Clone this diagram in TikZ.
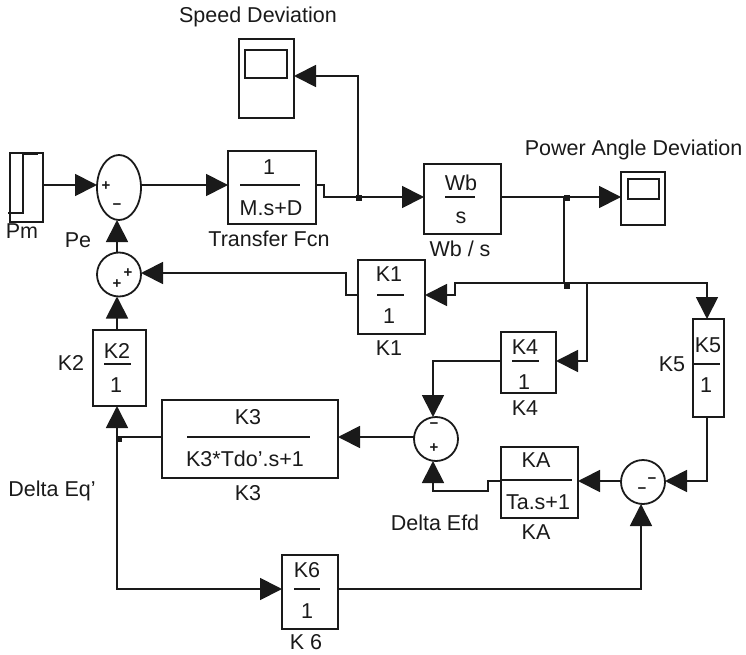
\documentclass[tikz,border=0pt]{standalone}
\usepackage{fontspec}
\setmainfont{Liberation Sans}
\usetikzlibrary{arrows.meta,shapes.geometric}
\definecolor{ink}{HTML}{1A1A1A}
\tikzset{
  blockbox/.style={draw=ink,line width=1.8pt,rectangle,inner sep=0pt,outer sep=0pt},
  sumnode/.style={draw=ink,line width=1.8pt,circle,minimum size=44pt,inner sep=0pt,outer sep=0pt},
  wire/.style={draw=ink,line width=1.8pt,line join=miter},
  flow/.style={wire,-{Triangle[length=22pt,width=22pt,color=ink]}},
  fracbar/.style={draw=ink,line width=1.8pt},
  lbl/.style={font=\fontsize{21.5}{24}\selectfont,text=ink,inner sep=0pt},
  sgn/.style={font=\fontsize{15}{16}\bfseries\selectfont,text=ink,inner sep=0pt},
  dot/.style={fill=ink,draw=none,rectangle,minimum size=6pt,inner sep=0pt}
}
\begin{document}
\begin{tikzpicture}[x=1pt,y=-1pt]
\useasboundingbox (0,0) rectangle (746,655);
% blocks
\node[blockbox,minimum width=33pt,minimum height=69pt] (pm) at (26.5,187.5) {};
\node[draw=ink,line width=1.8pt,ellipse,minimum width=44pt,minimum height=65pt,inner sep=0pt,outer sep=0pt] (pe) at (119,187.5) {};
\node[blockbox,minimum width=88pt,minimum height=73pt] (tf) at (272,187.5) {};
\node[blockbox,minimum width=55pt,minimum height=79pt] (sc1) at (266.5,78.5) {};
\node[blockbox,minimum width=42pt,minimum height=28pt] (sc1s) at (266,64) {};
\node[blockbox,minimum width=77pt,minimum height=70pt] (wb) at (462.5,199) {};
\node[blockbox,minimum width=44pt,minimum height=53pt] (sc2) at (643,198.5) {};
\node[blockbox,minimum width=31pt,minimum height=20pt] (sc2s) at (643.5,189) {};
\node[blockbox,minimum width=67pt,minimum height=74pt] (k1) at (391.5,297) {};
\node[blockbox,minimum width=55pt,minimum height=61pt] (k4) at (528.5,362.5) {};
\node[blockbox,minimum width=31pt,minimum height=98pt] (k5) at (708.5,368) {};
\node[blockbox,minimum width=53pt,minimum height=76pt] (k2) at (119.5,368) {};
\node[blockbox,minimum width=176pt,minimum height=78pt] (k3) at (250,439) {};
\node[blockbox,minimum width=56pt,minimum height=74pt] (k6) at (310,592) {};
\node[blockbox,minimum width=77pt,minimum height=71pt] (ka) at (539.5,482.5) {};
\node[sumnode] (s2) at (119,274.5) {};
\node[sumnode] (s3) at (436,439) {};
\node[sumnode] (s4) at (643,482) {};
% step icon
\coordinate (st1) at (8,213); \coordinate (st2) at (23,213);
\coordinate (st3) at (23,154); \coordinate (st4) at (38,154);
\draw[wire] (st1) -- (st2) -- (st3) -- (st4);
% fraction bars
\draw[fracbar] (240,185) -- (300,185);
\draw[fracbar] (445,197) -- (475,197);
\draw[fracbar] (377,295) -- (404,295);
\draw[fracbar] (512,361) -- (539,361);
\draw[fracbar] (694,364) -- (720,364);
\draw[fracbar] (104,364) -- (131,364);
\draw[fracbar] (187,437) -- (310,437);
\draw[fracbar] (294,589) -- (320,589);
\draw[fracbar] (501,480) -- (572,480);
% block texts
\node[lbl] (t1) at (269,167) {1};
\node[lbl] (t2) at (271,208) {M.s+D};
\node[lbl] (t3) at (461,183) {Wb};
\node[lbl] (t4) at (461,218) {s};
\node[lbl] (t5) at (389,274) {K1};
\node[lbl] (t6) at (389,316) {1};
\node[lbl] (t7) at (525,347) {K4};
\node[lbl] (t8) at (524,382) {1};
\node[lbl] (t9) at (708,345) {K5};
\node[lbl] (t10) at (706,385) {1};
\node[lbl] (t11) at (117,351) {K2};
\node[lbl] (t12) at (116,385) {1};
\node[lbl] (t13) at (248,417) {K3};
\node[lbl] (t14) at (245,459) {K3*Tdo'.s+1};
\node[lbl] (t15) at (307,570) {K6};
\node[lbl] (t16) at (307,611) {1};
\node[lbl] (t17) at (536,460) {KA};
\node[lbl] (t18) at (538,502) {Ta.s+1};
% labels
\node[lbl] (l1) at (258,17) {Speed Deviation};
\node[lbl] (l2) at (633.5,150) {Power Angle Deviation};
\node[lbl] (l3) at (22,231) {Pm};
\node[lbl] (l4) at (78,240) {Pe};
\node[lbl] (l5) at (269,239) {Transfer Fcn};
\node[lbl] (l6) at (460,249) {Wb / s};
\node[lbl] (l7) at (389,348) {K1};
\node[lbl] (l8) at (525,408) {K4};
\node[lbl] (l9) at (672,364) {K5};
\node[lbl] (l10) at (71,363) {K2};
\node[lbl] (l11) at (248,493) {K3};
\node[lbl] (l12) at (52,491) {Delta Eq'};
\node[lbl] (l13) at (306,642) {K 6};
\node[lbl] (l14) at (435,523) {Delta Efd};
\node[lbl] (l15) at (536,532) {KA};
% signs
\node[sgn] (g1) at (106,186) {+};
\node[sgn] (g2) at (117,207) {−};
\node[sgn] (g3) at (128,273) {+};
\node[sgn] (g4) at (117,284) {+};
\node[sgn] (g5) at (434,426) {−};
\node[sgn] (g6) at (434,448) {+};
\node[sgn] (g7) at (652,481) {−};
\node[sgn] (g8) at (642,491) {−};
% routing points
\coordinate (r1) at (0,185);
\coordinate (a1) at (324,185);
\coordinate (a2) at (324,197);
\coordinate (j1) at (358,197);
\coordinate (a3) at (358,76);
\coordinate (j2) at (564,197);
\coordinate (j3) at (564,283);
\coordinate (b1) at (455,283);
\coordinate (b2) at (455,295);
\coordinate (b3) at (587,283);
\coordinate (b4) at (587,361);
\coordinate (b5) at (707,283);
\coordinate (c1) at (346,295);
\coordinate (c2) at (346,273);
\coordinate (d1) at (433,361);
\coordinate (e1) at (488,481);
\coordinate (e2) at (488,491);
\coordinate (e3) at (433,491);
\coordinate (f1) at (707,481);
\coordinate (h1) at (117,437);
\coordinate (h2) at (117,589);
\coordinate (i1) at (641,589);
\coordinate (m1) at (0,437);
\coordinate (m2) at (0,481);
\coordinate (m3) at (0,589);
\coordinate (m4) at (117,0);
% connectors
\draw[flow] (pm.east |- r1) -- (pe.west |- r1);
\draw[flow] (pe.east |- r1) -- (tf.west |- r1);
\draw[wire] (tf.east |- r1) -- (a1) -- (a2) -- (j1);
\draw[flow] (j1) -- (a3) -- (sc1.east |- a3);
\draw[flow] (j1) -- (wb.west |- j1);
\draw[flow] (wb.east |- j2) -- (sc2.west |- j2);
\draw[wire] (j2) -- (j3);
\draw[flow] (b3) -- (b1) -- (b2) -- (k1.east |- b2);
\draw[flow] (b3) -- (b4) -- (k4.east |- b4);
\draw[flow] (b3) -- (b5) -- (k5.north -| b5);
\draw[flow] (k1.west |- c1) -- (c1) -- (c2) -- (s2.east |- c2);
\draw[flow] (k2.north -| m4) -- (s2.south -| m4);
\draw[flow] (s2.north -| m4) -- (pe.south -| m4);
\draw[flow] (k4.west |- d1) -- (d1) -- (s3.north -| d1);
\draw[flow] (s3.west |- m1) -- (k3.east |- m1);
\draw[wire] (k3.west |- m1) -- (h1);
\draw[flow] (h1) -- (k2.south -| h1);
\draw[flow] (h1) -- (h2) -- (k6.west |- h2);
\draw[flow] (k6.east |- h2) -- (i1) -- (s4.south -| i1);
\draw[flow] (k5.south -| f1) -- (f1) -- (s4.east |- f1);
\draw[flow] (s4.west |- m2) -- (ka.east |- m2);
\draw[flow] (ka.west |- e1) -- (e1) -- (e2) -- (e3) -- (s3.south -| e3);
% junctions
\node[dot] (d1n) at (359,198) {};
\node[dot] (d2n) at (566.5,198) {};
\node[dot] (d3n) at (566.5,286) {};
\node[dot,minimum size=5pt] (d4n) at (119.5,439.5) {};
\end{tikzpicture}
\end{document}
